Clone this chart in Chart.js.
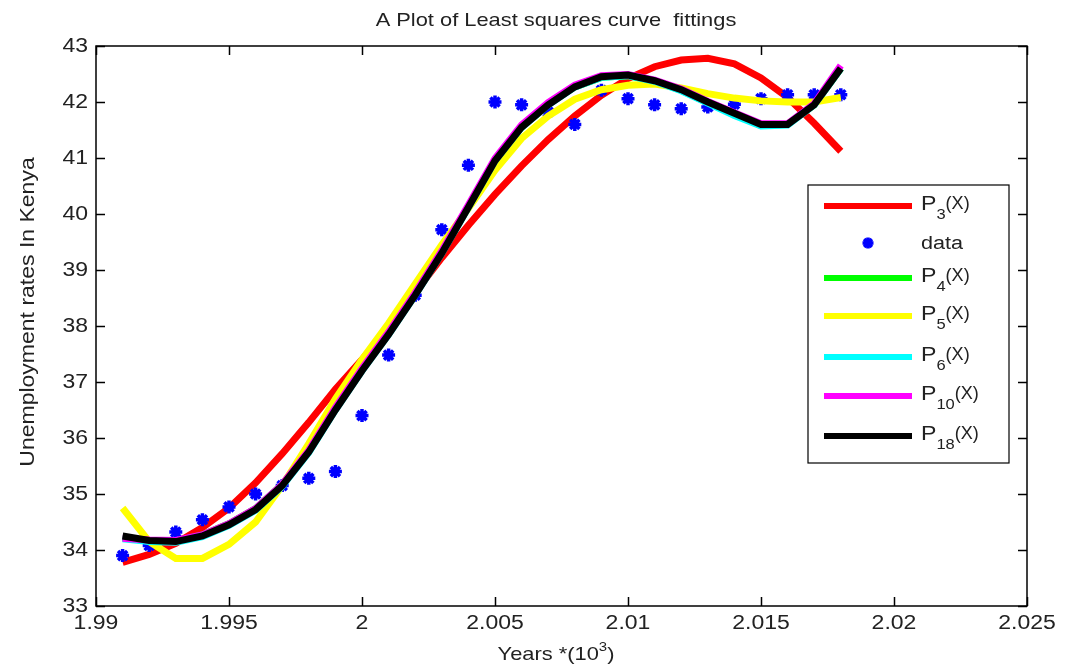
<!DOCTYPE html>
<html>
<head>
<meta charset="utf-8">
<script src="https://cdn.jsdelivr.net/npm/chart.js@4"></script>
<style>
  html, body { margin: 0; padding: 0; background: #fff; }
  canvas { display: block; }
</style>
</head>
<body>
<canvas id="chart" width="1070" height="669"></canvas>
<script>
// Least squares fits of Kenyan unemployment rates
const years = [1991, 1992, 1993, 1994, 1995, 1996, 1997, 1998, 1999, 2000,
               2001, 2002, 2003, 2004, 2005, 2006, 2007, 2008, 2009, 2010,
               2011, 2012, 2013, 2014, 2015, 2016, 2017, 2018];

const rates = [33.9, 34.08, 34.32, 34.54, 34.77, 35.0, 35.15, 35.28, 35.4, 36.4,
               37.48, 38.55, 39.72, 40.87, 42.0, 41.95, 41.82, 41.6, 42.21, 42.06,
               41.95, 41.88, 41.91, 41.96, 42.06, 42.13, 42.13, 42.13];

const p3 = [33.78, 33.92, 34.12, 34.4, 34.75, 35.2, 35.72, 36.28, 36.87, 37.4,
            37.98, 38.6, 39.22, 39.8, 40.35, 40.86, 41.33, 41.75, 42.12, 42.42,
            42.63, 42.75, 42.78, 42.68, 42.43, 42.08, 41.62, 41.12];

const p4 = [34.22, 34.16, 34.16, 34.27, 34.47, 34.74, 35.17, 35.77, 36.52, 37.22,
            37.87, 38.57, 39.32, 40.13, 40.95, 41.55, 41.96, 42.27, 42.44, 42.47,
            42.37, 42.21, 41.99, 41.78, 41.58, 41.6, 41.95, 42.6];

const p5 = [34.75, 34.15, 33.85, 33.85, 34.1, 34.5, 35.15, 35.9, 36.7, 37.4,
            38.05, 38.75, 39.45, 40.1, 40.78, 41.35, 41.75, 42.05, 42.22, 42.3,
            42.32, 42.25, 42.15, 42.07, 42.02, 42.0, 42.0, 42.08];

const p6 = [34.2, 34.15, 34.14, 34.24, 34.44, 34.71, 35.14, 35.74, 36.5, 37.2,
            37.85, 38.55, 39.3, 40.12, 40.95, 41.55, 41.95, 42.27, 42.44, 42.47,
            42.37, 42.2, 41.98, 41.76, 41.57, 41.59, 41.95, 42.6];

const p10 = [34.21, 34.18, 34.17, 34.27, 34.47, 34.74, 35.17, 35.78, 36.54, 37.24,
             37.89, 38.59, 39.34, 40.16, 40.99, 41.59, 41.99, 42.3, 42.47, 42.49,
             42.39, 42.23, 42.01, 41.81, 41.61, 41.61, 41.97, 42.65];

const p18 = [34.25, 34.17, 34.15, 34.25, 34.45, 34.72, 35.15, 35.75, 36.5, 37.2,
             37.85, 38.55, 39.3, 40.12, 40.95, 41.55, 41.95, 42.27, 42.45, 42.48,
             42.38, 42.22, 42.0, 41.8, 41.6, 41.6, 41.95, 42.6];

const xTicks = [1.99, 1.995, 2.0, 2.005, 2.01, 2.015, 2.02, 2.025];
const xTickLabels = ['1.99', '1.995', '2', '2.005', '2.01', '2.015', '2.02', '2.025'];
const yTicks = [33, 34, 35, 36, 37, 38, 39, 40, 41, 42, 43];
const yTickLabels = ['33', '34', '35', '36', '37', '38', '39', '40', '41', '42', '43'];

const legendRows = [
    { key: 'p3', sub: '3' },
    { key: 'data' },
    { key: 'p4', sub: '4' },
    { key: 'p5', sub: '5' },
    { key: 'p6', sub: '6' },
    { key: 'p10', sub: '10' },
    { key: 'p18', sub: '18' },
];

const FONT = '"Liberation Sans", Arial, sans-serif';
const TEXT_COLOR = '#222';

function pts(values) {
    return values.map((v, i) => ({ x: years[i] / 1000, y: v }));
}

function fitLine(key, values, color, order) {
    return {
        key, label: key, data: pts(values), showLine: true,
        borderColor: color, backgroundColor: color,
        borderWidth: 7, pointRadius: 0, tension: 0, order,
    };
}

// text drawn a bit wider than the font, like the MATLAB export
function wideText(ctx, text, x, y, size, align, sx = 1.15, rot = 0) {
    ctx.save();
    ctx.translate(x, y);
    if (rot) ctx.rotate(rot);
    ctx.scale(sx, 1);
    ctx.font = `${size}px ${FONT}`;
    ctx.textAlign = align;
    ctx.textBaseline = 'middle';
    ctx.fillText(text, 0, 0);
    ctx.restore();
}

function textWidth(ctx, text, size, sx = 1.15) {
    ctx.font = `${size}px ${FONT}`;
    return ctx.measureText(text).width * sx;
}

const frame = {
    id: 'frame',
    afterDatasetsDraw(chart) {
        const { ctx, chartArea: a, scales: { x, y } } = chart;
        ctx.save();
        ctx.fillStyle = TEXT_COLOR;
        ctx.strokeStyle = '#000';
        ctx.lineWidth = 1.5;
        ctx.strokeRect(a.left, a.top, a.right - a.left, a.bottom - a.top);

        // inward ticks on all four sides
        ctx.beginPath();
        xTicks.forEach(v => {
            const px = Math.round(x.getPixelForValue(v)) + 0.5;
            ctx.moveTo(px, a.bottom); ctx.lineTo(px, a.bottom - 9);
            ctx.moveTo(px, a.top); ctx.lineTo(px, a.top + 9);
        });
        yTicks.forEach(v => {
            const py = Math.round(y.getPixelForValue(v)) + 0.5;
            ctx.moveTo(a.left, py); ctx.lineTo(a.left + 9, py);
            ctx.moveTo(a.right, py); ctx.lineTo(a.right - 9, py);
        });
        ctx.stroke();

        xTicks.forEach((v, i) => wideText(ctx, xTickLabels[i], x.getPixelForValue(v), a.bottom + 17, 20, 'center'));
        yTicks.forEach((v, i) => wideText(ctx, yTickLabels[i], a.left - 8, y.getPixelForValue(v), 20, 'right'));

        // titles
        wideText(ctx, 'A Plot of Least squares curve  fittings', 556, 21, 19, 'center');
        wideText(ctx, 'Unemployment rates In Kenya', 28, 312, 20, 'center', 1.15, -Math.PI / 2);

        const t1 = 'Years *(10', t2 = '3', t3 = ')';
        const w1 = textWidth(ctx, t1, 19), w2 = textWidth(ctx, t2, 13), w3 = textWidth(ctx, t3, 19);
        let tx = 556 - (w1 + w2 + w3) / 2;
        wideText(ctx, t1, tx, 655, 19, 'left'); tx += w1;
        wideText(ctx, t2, tx, 647, 13, 'left'); tx += w2;
        wideText(ctx, t3, tx, 655, 19, 'left');

        // legend box
        const bx = 808, by = 185, bw = 201, bh = 278;
        ctx.fillStyle = '#fff';
        ctx.fillRect(bx, by, bw, bh);
        ctx.strokeStyle = '#000';
        ctx.lineWidth = 1.2;
        ctx.strokeRect(bx, by, bw, bh);

        const rowY = [206, 243, 278, 316, 357, 396, 436];
        legendRows.forEach((row, i) => {
            const ds = chart.data.datasets.find(d => d.key === row.key);
            const ry = rowY[i];
            if (row.key === 'data') {
                ctx.save();
                ctx.strokeStyle = ds.borderColor;
                ctx.lineWidth = 3.5;
                ctx.beginPath();
                for (let k = 0; k < 4; k++) {
                    const ang = k * Math.PI / 4;
                    ctx.moveTo(868 - 5.5 * Math.cos(ang), ry - 5.5 * Math.sin(ang));
                    ctx.lineTo(868 + 5.5 * Math.cos(ang), ry + 5.5 * Math.sin(ang));
                }
                ctx.stroke();
                ctx.restore();
                ctx.fillStyle = TEXT_COLOR;
                wideText(ctx, 'data', 921, ry + 1, 18, 'left', 1.2);
            } else {
                ctx.fillStyle = ds.borderColor;
                ctx.fillRect(824, ry - 3, 88, 6);
                ctx.fillStyle = TEXT_COLOR;
                let lx = 921;
                wideText(ctx, 'P', lx, ry - 2, 21, 'left', 1.1);
                lx += textWidth(ctx, 'P', 21, 1.1);
                wideText(ctx, row.sub, lx, ry + 9, 15, 'left', 1.1);
                lx += textWidth(ctx, row.sub, 15, 1.1);
                wideText(ctx, '(X)', lx, ry - 2, 19, 'left', 0.95);
            }
        });
        ctx.restore();
    }
};

new Chart(document.getElementById('chart'), {
    type: 'scatter',
    data: {
        datasets: [
            fitLine('p3', p3, '#ff0000', 7),
            {
                key: 'data', label: 'data', data: pts(rates), showLine: false,
                pointStyle: 'star', pointRadius: 6.5, borderWidth: 3.5,
                borderColor: '#0000ff', backgroundColor: '#0000ff', order: 6,
            },
            fitLine('p4', p4, '#00ff00', 5),
            fitLine('p5', p5, '#ffff00', 4),
            fitLine('p6', p6, '#00ffff', 3),
            fitLine('p10', p10, '#ff00ff', 2),
            fitLine('p18', p18, '#000000', 1),
        ]
    },
    options: {
        responsive: false,
        animation: false,
        devicePixelRatio: 1,
        layout: { padding: { left: 0, top: 46, right: 43, bottom: 0 } },
        plugins: { legend: { display: false }, tooltip: { enabled: false }, title: { display: false } },
        scales: {
            x: {
                type: 'linear', min: 1.99, max: 2.025,
                ticks: { display: false, stepSize: 0.005 },
                grid: { display: false }, border: { display: false },
                afterFit: s => { s.height = 63; },
            },
            y: {
                type: 'linear', min: 33, max: 43,
                ticks: { display: false, stepSize: 1 },
                grid: { display: false }, border: { display: false },
                afterFit: s => { s.width = 96; },
            }
        }
    },
    plugins: [frame]
});
</script>
</body>
</html>
